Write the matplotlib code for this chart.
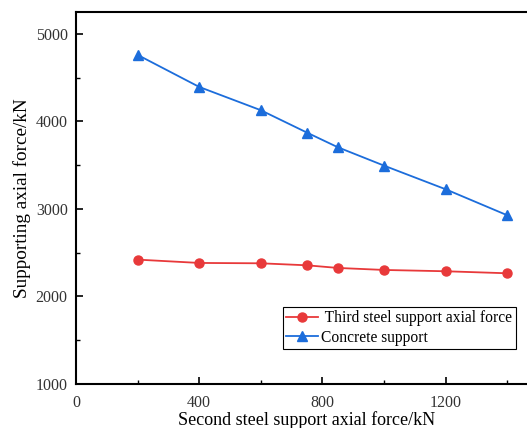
import matplotlib.pyplot as plt
from matplotlib.ticker import MultipleLocator

# data
x = [200, 400, 600, 750, 850, 1000, 1200, 1400]
third_steel = [2421, 2383, 2379, 2356, 2326, 2303, 2288, 2265]
concrete = [4760, 4394, 4128, 3872, 3705, 3495, 3225, 2928]

plt.rcParams['font.family'] = ['Liberation Serif', 'DejaVu Serif']

fig = plt.figure(figsize=(5.27, 4.28), dpi=100)
# axes runs past the right edge of the figure, as in the reference crop
ax = fig.add_axes([76 / 527, 1 - 384 / 428, (538 - 76) / 527, (384 - 12) / 428])

ax.plot(x, third_steel, color='#e8393a', marker='o', markersize=6.5, lw=1.3,
        label=' Third steel support axial force')
ax.plot(x, concrete, color='#1c6ddb', marker='^', markersize=7, lw=1.3,
        label='Concrete support')

ax.set_xlim(0, 1500)
ax.set_ylim(1000, 5250)
ax.xaxis.set_major_locator(MultipleLocator(400))
ax.xaxis.set_minor_locator(MultipleLocator(200))
ax.yaxis.set_major_locator(MultipleLocator(1000))
ax.yaxis.set_minor_locator(MultipleLocator(500))
ax.tick_params(which='both', direction='in', labelsize=11.5, labelcolor='#333333')
ax.tick_params(which='major', length=5, width=1.2)
ax.tick_params(axis='x', which='major', pad=8)
ax.tick_params(axis='y', which='major', pad=6)
ax.tick_params(which='minor', length=3, width=1.0)
for s in ax.spines.values():
    s.set_linewidth(1.5)

ax.set_xlabel('Second steel support axial force/kN', fontsize=13, labelpad=0)
ax.set_ylabel('Supporting axial force/kN', fontsize=13.8, labelpad=3)

leg = ax.legend(loc='lower left', bbox_to_anchor=(0.447, 0.093), fontsize=11.2,
                fancybox=False, edgecolor='black', framealpha=1,
                handlelength=2.0, handletextpad=0.2, borderpad=0.25,
                labelspacing=0.2, borderaxespad=0)
leg.get_frame().set_linewidth(0.8)

fig.savefig('out.png', dpi=100)
